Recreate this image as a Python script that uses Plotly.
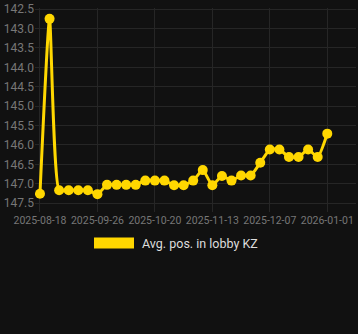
import plotly.graph_objects as go

dates = [
    "2025-08-18", "2025-08-24", "2025-08-30", "2025-09-05", "2025-09-11", "2025-09-18",
    "2025-09-26", "2025-09-30", "2025-10-04", "2025-10-08", "2025-10-12", "2025-10-16",
    "2025-10-20", "2025-10-24", "2025-10-28", "2025-11-01", "2025-11-05", "2025-11-09",
    "2025-11-13", "2025-11-17", "2025-11-21", "2025-11-25", "2025-11-29", "2025-12-03",
    "2025-12-07", "2025-12-11", "2025-12-15", "2025-12-19", "2025-12-23", "2025-12-27",
    "2026-01-01",
]
avg_pos = [
    147.26, 142.75, 147.17, 147.17, 147.17, 147.17,
    147.27, 147.03, 147.03, 147.03, 147.03, 146.92,
    146.92, 146.92, 147.04, 147.04, 146.92, 146.65,
    147.04, 146.80, 146.92, 146.79, 146.79, 146.46,
    146.12, 146.12, 146.31, 146.31, 146.12, 146.31,
    145.71,
]
tick_labels = ["2025-08-18", "2025-09-26", "2025-10-20", "2025-11-13", "2025-12-07", "2026-01-01"]
y_ticks = [142.5, 143, 143.5, 144, 144.5, 145, 145.5, 146, 146.5, 147, 147.5]
series_name = "Avg. pos. in lobby KZ"
color = "#FFD700"

fig = go.Figure()
fig.add_trace(go.Scatter(
    x=dates, y=avg_pos, mode="lines+markers", name=series_name,
    line=dict(color=color, width=3, shape="spline", smoothing=0.5),
    marker=dict(color=color, size=10),
    showlegend=False,
))

# legend drawn as swatch + text (paper coordinates)
fig.add_shape(type="rect", xref="paper", yref="paper",
              x0=0.1838, x1=0.3084, y0=-0.1787, y1=-0.1256,
              fillcolor=color, line=dict(width=0))
fig.add_annotation(text=series_name, xref="paper", yref="paper",
                   x=0.327, y=-0.1546, xanchor="left", yanchor="middle",
                   showarrow=False, font=dict(color="#dddddd", size=12.5))

fig.update_layout(
    width=358, height=334,
    paper_bgcolor="#111111", plot_bgcolor="#111111",
    margin=dict(l=35, r=2, t=5, b=122),
    font=dict(family="Roboto, Arial, sans-serif", color="#888888", size=11),
    showlegend=False,
    xaxis=dict(type="category", tickmode="array", tickvals=tick_labels, ticktext=tick_labels,
               range=[-0.52, 33.0], showgrid=True, gridcolor="#262626", zeroline=False,
               tickfont=dict(size=10.5, color="#777777"), showline=False, ticks=""),
    yaxis=dict(range=[147.73, 142.47], tickvals=y_ticks,
               tickformat=".1f", showgrid=True, gridcolor="#262626", zeroline=False,
               tickfont=dict(size=12, color="#777777"), ticks="", ticklabelstandoff=0,
               ticklabeloverflow="allow"),
)

fig.write_html("out.html")
